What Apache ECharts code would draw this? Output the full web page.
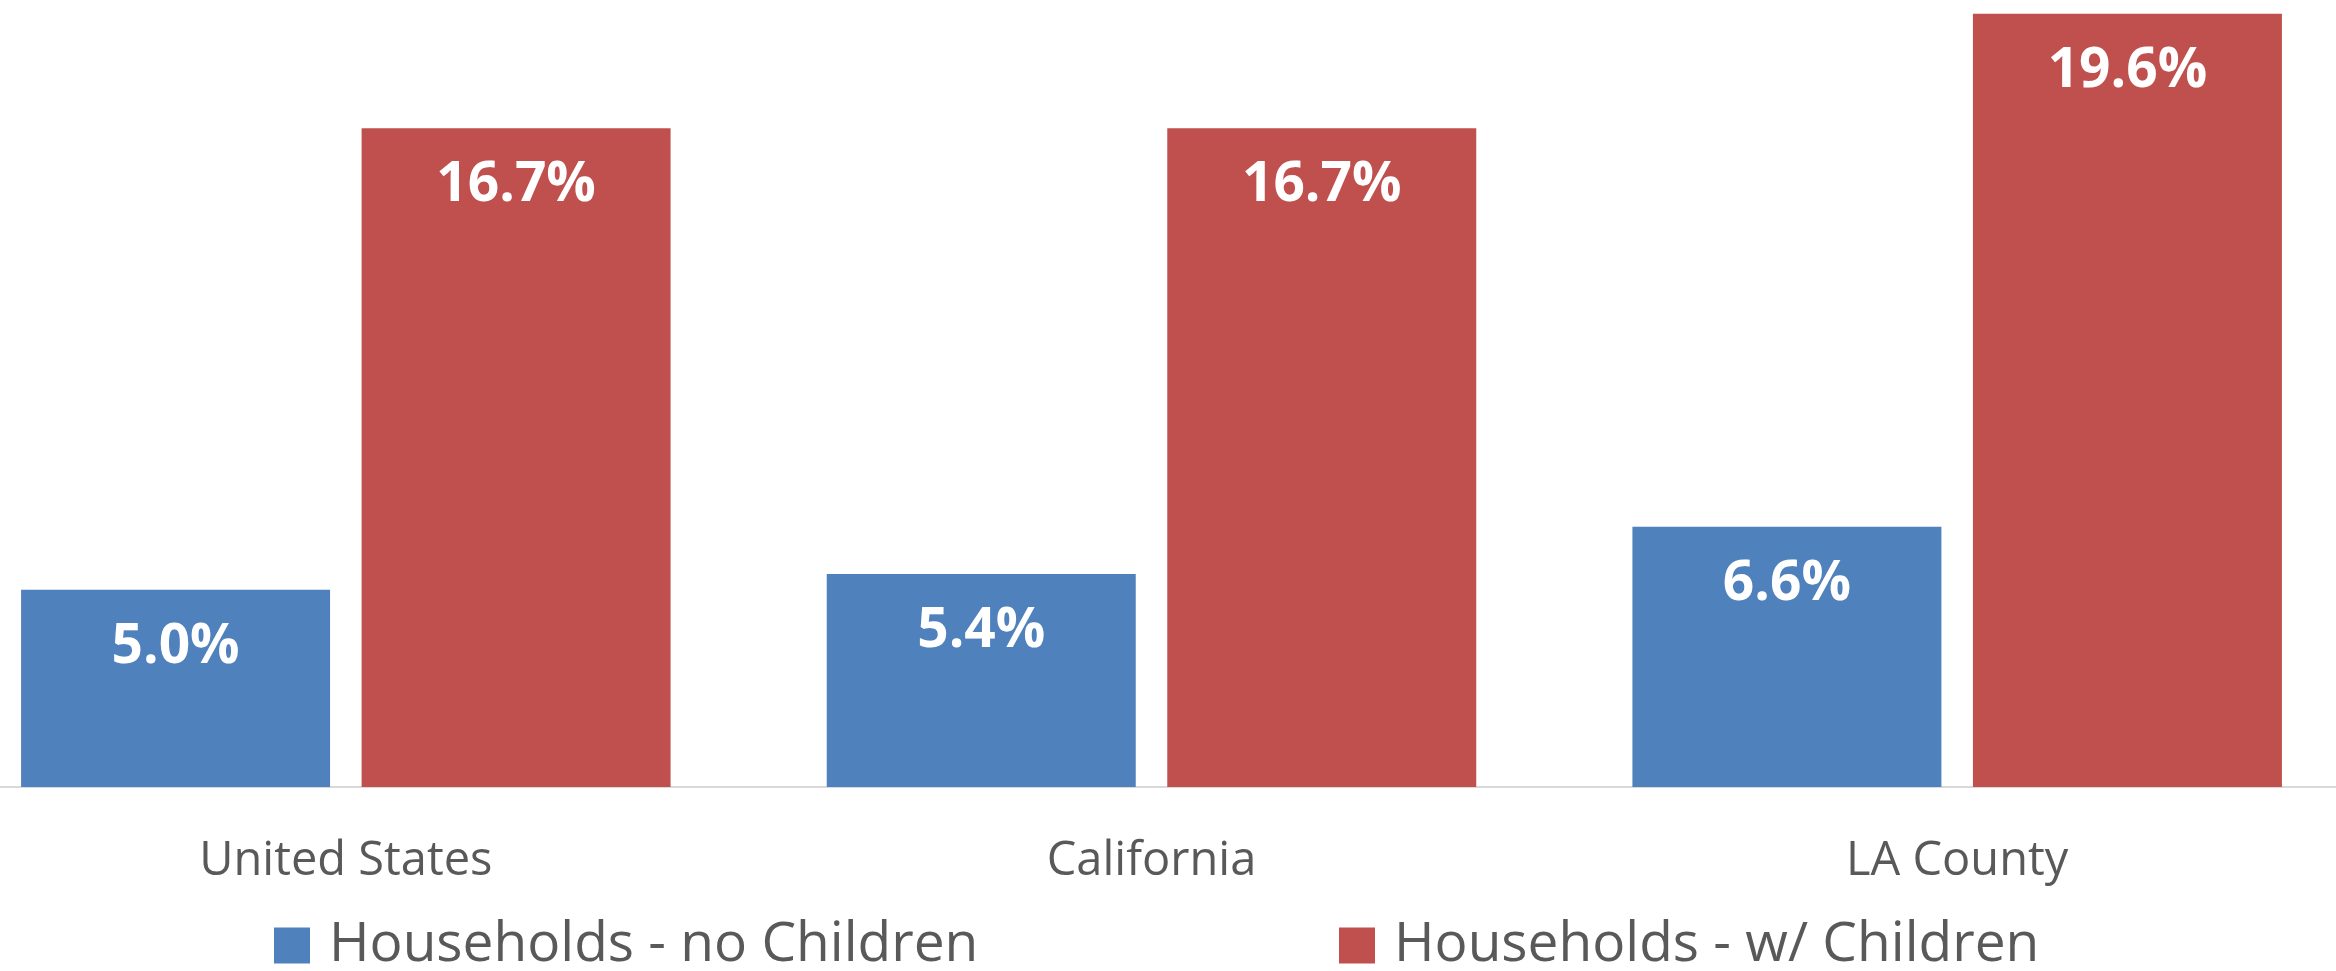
<!DOCTYPE html>
<html>
<head>
<meta charset="utf-8">
<script src="https://cdn.jsdelivr.net/npm/echarts@6/dist/echarts.min.js"></script>
<style>
  html, body { margin: 0; padding: 0; background: #fff; overflow: hidden; width: 2336px; height: 971px; }
  /* the plot is cropped on the left and right, like the original */
  #main { position: absolute; left: -57px; top: -2px; width: 2417px; height: 973px; }
</style>
</head>
<body>
<div id="main"></div>
<script>
var regions = ['United States', 'California', 'LA County'];
var noChildren = [5.0, 5.4, 6.6];
var withChildren = [16.7, 16.7, 19.6];
var seriesNames = ['Households - no Children', 'Households - w/ Children'];
var colors = ['#4F81BD', '#C0504D'];

var chart = echarts.init(document.getElementById('main'));

var labelStyle = {
    show: true,
    position: 'insideTop',
    distance: 30,
    color: '#fff',
    fontFamily: 'Open Sans',
    fontWeight: 'bold',
    fontSize: 55,
    lineHeight: 55,
    formatter: function (p) { return p.value.toFixed(1) + '%'; }
};

var legendText = {
    fontFamily: 'Open Sans',
    fontSize: 55,
    lineHeight: 55,
    color: '#595959',
    padding: [0, 0, 0, 14]
};

var option = {
    animation: false,
    color: colors,
    legend: [{
        data: [seriesNames[0]],
        left: 331,
        top: 920,
        padding: 0,
        icon: 'rect',
        itemWidth: 36,
        itemHeight: 36,
        textStyle: legendText
    }, {
        data: [seriesNames[1]],
        left: 1396,
        top: 920,
        padding: 0,
        icon: 'rect',
        itemWidth: 36,
        itemHeight: 36,
        textStyle: legendText
    }],
    grid: {
        left: 0,
        right: 0,
        top: 0,
        bottom: 184
    },
    xAxis: {
        type: 'category',
        data: regions,
        axisTick: { show: false },
        axisLine: { lineStyle: { color: '#D9D9D9', width: 2 } },
        axisLabel: {
            margin: 51,
            color: '#595959',
            fontFamily: 'Open Sans',
            fontSize: 47
        }
    },
    yAxis: {
        type: 'value',
        min: 0,
        max: 20,
        show: false,
        splitLine: { show: false }
    },
    series: [{
        name: seriesNames[0],
        type: 'bar',
        barWidth: 309,
        barGap: '10.2%',
        data: noChildren,
        label: labelStyle
    }, {
        name: seriesNames[1],
        type: 'bar',
        barWidth: 309,
        barGap: '10.2%',
        data: withChildren,
        label: labelStyle
    }]
};

chart.setOption(option);
</script>
</body>
</html>
